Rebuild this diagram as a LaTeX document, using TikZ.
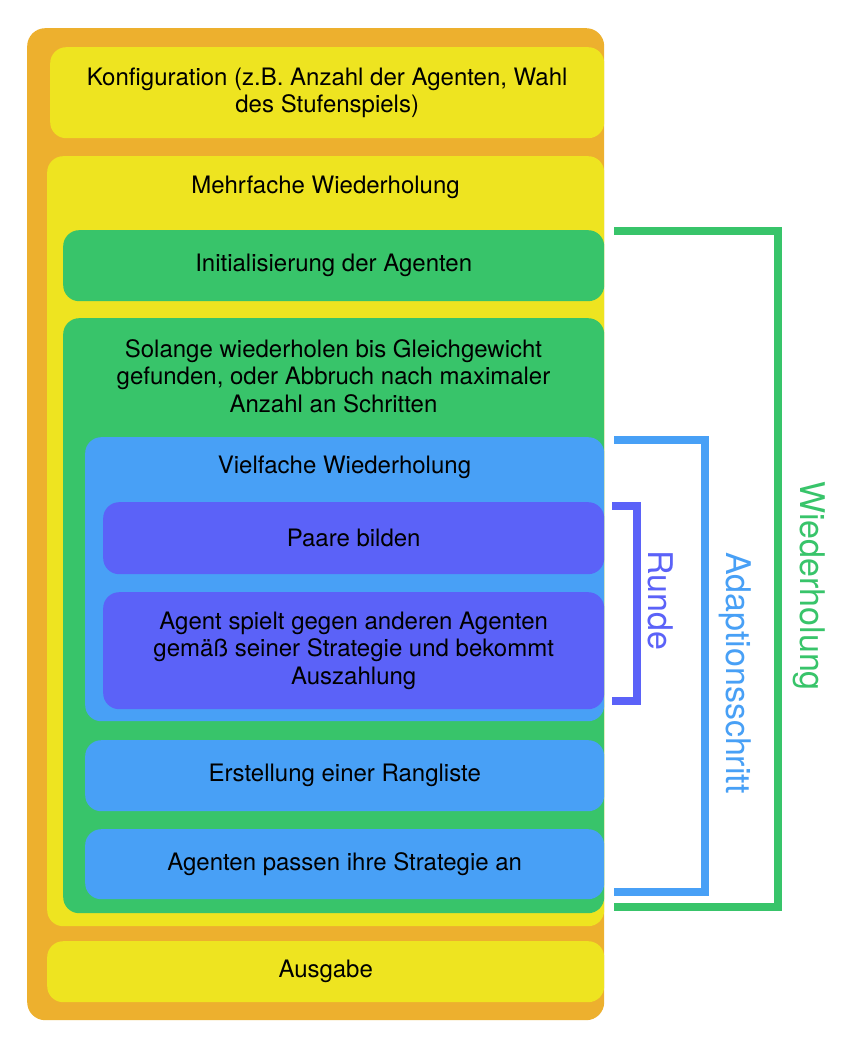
\documentclass[tikz,border=0pt]{standalone}
\usepackage{fontspec}
\setmainfont{TeX Gyre Heros}
\definecolor{corange}{RGB}{237,176,46}
\definecolor{cyellow}{RGB}{238,228,32}
\definecolor{cgreen}{RGB}{56,196,106}
\definecolor{cblue}{RGB}{72,160,246}
\definecolor{cpurple}{RGB}{91,98,248}
\begin{document}
\begin{tikzpicture}[x=1pt,y=-1pt,
 box/.style={rounded corners=16pt, inner sep=0pt, anchor=north west, align=center, font=\fontsize{24}{27.5}\selectfont},
 lbl/.style={font=\fontsize{24}{27.5}\selectfont, align=center, inner sep=0pt},
 side/.style={font=\fontsize{34}{40}\selectfont, rotate=-90, inner sep=0pt},
 brk/.style={line width=7.5pt, line join=miter}
]
\fill[white] (0,0) rectangle (862,1056);
\useasboundingbox (0,0) rectangle (862,1056);
% containers
\node[box, fill=corange, rounded corners=18pt, minimum width=577pt, minimum height=992pt] (outer) at (27,28) {};
\node[box, fill=cyellow, minimum width=554pt, minimum height=91pt] (konf) at (50,47) {Konfiguration (z.B. Anzahl der Agenten, Wahl\\des Stufenspiels)};
\node[box, fill=cyellow, minimum width=557pt, minimum height=770pt] (mehr) at (47,156) {};
\node[lbl] (mehrT) at (325.5,187) {Mehrfache Wiederholung};
\node[box, fill=cgreen, minimum width=541pt, minimum height=71pt] (init) at (63,230) {Initialisierung der Agenten};
\node[box, fill=cgreen, minimum width=541pt, minimum height=595pt] (sol) at (63,318) {};
\node[lbl] (solT) at (333.5,376) {Solange wiederholen bis Gleichgewicht\\gefunden, oder Abbruch nach maximaler\\Anzahl an Schritten};
\node[box, fill=cblue, minimum width=519pt, minimum height=284pt] (viel) at (85,437) {};
\node[lbl] (vielT) at (344.5,467) {Vielfache Wiederholung};
\node[box, fill=cpurple, minimum width=501pt, minimum height=72pt] (paare) at (103,502) {Paare bilden};
\node[box, fill=cpurple, minimum width=501pt, minimum height=117pt] (agent) at (103,592) {Agent spielt gegen anderen Agenten\\gemäß seiner Strategie und bekommt\\Auszahlung};
\node[box, fill=cblue, minimum width=519pt, minimum height=71pt] (erst) at (85,740) {Erstellung einer Rangliste};
\node[box, fill=cblue, minimum width=519pt, minimum height=70pt] (anp) at (85,829) {Agenten passen ihre Strategie an};
\node[box, fill=cyellow, minimum width=557pt, minimum height=61pt] (aus) at (47,941) {Ausgabe};
% brackets
\coordinate (g1) at (614,231);
\coordinate (g2) at (778,231);
\coordinate (g3) at (778,907);
\coordinate (g4) at (614,907);
\draw[brk, cgreen] (g1) -- (g2) -- (g3) -- (g4);
\coordinate (b1) at (614,440);
\coordinate (b2) at (705,440);
\coordinate (b3) at (705,892);
\coordinate (b4) at (614,892);
\draw[brk, cblue] (b1) -- (b2) -- (b3) -- (b4);
\coordinate (p1) at (612,506);
\coordinate (p2) at (637,506);
\coordinate (p3) at (637,701);
\coordinate (p4) at (612,701);
\draw[brk, cpurple] (p1) -- (p2) -- (p3) -- (p4);
\node[side, text=cpurple] (runde) at (661,600) {Runde};
\node[side, text=cblue] (adapt) at (735,673) {Adaptionsschritt};
\node[side, text=cgreen] (wied) at (809,586) {Wiederholung};
\end{tikzpicture}
\end{document}
